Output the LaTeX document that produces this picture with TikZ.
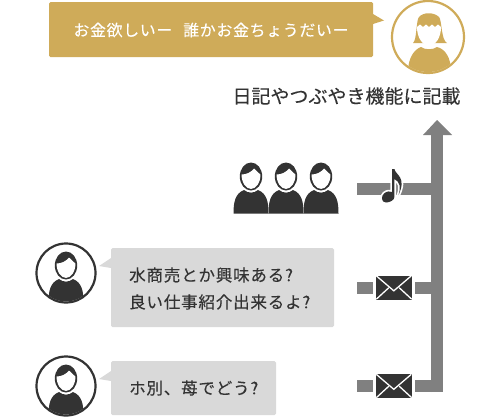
\documentclass[tikz,border=0pt]{standalone}
\usepackage{fontspec}
\setmainfont{Noto Sans CJK JP}[FakeBold=0.25]
\newfontfamily\spaced{Noto Sans CJK JP}[FakeBold=0.25,LetterSpace=5]
\usetikzlibrary{shapes.callouts}
\definecolor{gold}{HTML}{CFAB59}
\definecolor{ink}{HTML}{333333}
\definecolor{barg}{HTML}{808080}
\definecolor{bub}{HTML}{D9D9D9}
\def\notepath{(392,169) -- (394.4,169) .. controls (395.5,175) and (407,177) .. (398.5,195)
   .. controls (401,187) and (400,182) .. (394.4,179) -- (394.4,197)
   .. controls (394.4,200) and (390,202.5) .. (386,202.5)
   .. controls (381,202.5) and (381,196) .. (384,193.5)
   .. controls (387,191) and (390,191) .. (392,192) -- cycle}
\tikzset{
  x=1pt,y=-1pt,
  bar/.style={draw=barg,line width=12pt},
  bubbletext/.style={anchor=west,inner sep=0pt,text=ink,font=\spaced\fontsize{16.5}{27}\selectfont,align=left},
  mailbox/.style={rectangle,fill=ink,minimum width=36pt,minimum height=24pt,inner sep=0pt},
  man/.pic={
    \fill[ink] (-17.5,37) .. controls (-17.5,26) and (-16,17) .. (-7,13.5)
       .. controls (-3,17) and (3,17) .. (7,13.5)
       .. controls (16,17) and (17.5,26) .. (17.5,37) -- cycle;
    \fill[ink] (0,0) ellipse[x radius=11.2,y radius=14];
    \fill[white] (-9.4,-2) .. controls (-5,-2) and (0,-4) .. (3,-8)
       .. controls (5,-5) and (8,-4) .. (9.4,-2)
       .. controls (9.6,6) and (5,12.4) .. (0,12.4)
       .. controls (-5,12.4) and (-9.6,6) .. (-9.4,-2) -- cycle;
  },
}
\begin{document}
\begin{tikzpicture}
\useasboundingbox (0,0) rectangle (502,416);
% gold speech bubble
\fill[gold,rounded corners=1.5pt] (49,2) rectangle (373,57);
\fill[gold] (373,14) -- (384,20.5) -- (373,24) -- cycle;
\node[inner sep=0pt,text=white,font=\spaced\fontsize{15.8}{18}\selectfont] (speech) at (211,30) {お金欲しいー\hspace{0.7em}誰かお金ちょうだいー};
% woman icon
\node[circle,draw=gold,line width=2.2pt,minimum size=72pt,inner sep=0pt] (woman) at (428,37) {};
\begin{scope}
  \clip (woman) circle (35);
  \fill[gold] (408,72) .. controls (408,57) and (415,49) .. (421,47)
     .. controls (425,50) and (433,50) .. (437,47)
     .. controls (445,49) and (451,57) .. (451,72) -- cycle;
  \fill[gold] (413,43) .. controls (417,40) and (416,20) .. (419,17)
     .. controls (423,12) and (434,12) .. (439,17)
     .. controls (442,20) and (441,40) .. (447,43) -- cycle;
  \fill[white] (417,27) -- (420,24.5) -- (423,27) -- (426,24.5) -- (429,27) -- (432,24.5) -- (435,27) -- (438,24.5) -- (441,27)
     .. controls (441,37) and (436,45.5) .. (429,45.5)
     .. controls (422,45.5) and (417,37) .. (417,27) -- cycle;
\end{scope}
% caption
\node[inner sep=0pt,text=ink,font=\fontsize{19}{22}\selectfont] (caption) at (346.5,96) {日記やつぶやき機能に記載};
% connectors
\coordinate (tip) at (437,120);
\coordinate (hl) at (423,135);
\coordinate (hr) at (452,135);
\coordinate (foot) at (437,392);
\coordinate (j1) at (437,189);
\coordinate (j2) at (437,287.5);
\coordinate (j3) at (437,386);
\coordinate (s1) at (357,189);
\coordinate (s2) at (357,287.5);
\coordinate (s3) at (357,386);
\draw[bar] (foot) -- (437,134);
\fill[barg] (tip) -- (hr) -- (hl) -- cycle;
\draw[bar] (s1) -- (j1);
\node[mailbox] (m2) at (394,287.5) {};
\node[mailbox] (m3) at (394,386) {};
\draw[bar,shorten >=3pt] (s2) -- (m2);
\draw[bar,shorten <=3pt] (m2) -- (j2);
\draw[bar,shorten >=3pt] (s3) -- (m3);
\draw[bar,shorten <=3pt] (m3) -- (j3);
\foreach \m in {m2,m3}{
  \draw[white,line width=1.3pt,line join=miter] (\m.north west) ++(0.5,0.5) -- ++(17.5,15) -- ++(17.5,-15);
  \draw[white,line width=1.3pt] (\m.south west) ++(0.5,-0.5) -- ++(12.5,-11.5);
  \draw[white,line width=1.3pt] (\m.south east) ++(-0.5,-0.5) -- ++(-12.5,-11.5);
}
% note icon
\draw[white,line width=3.4pt,line join=round,fill=white] \notepath;
\fill[ink] \notepath;
% three people
\path (251,176.5) pic {man};
\path (286,176.5) pic {man};
\path (321,176.5) pic {man};
% dark rings
\node[circle,draw=ink,line width=2.2pt,minimum size=59pt,inner sep=0pt] (u1) at (66,273) {};
\node[circle,draw=ink,line width=2.2pt,minimum size=59pt,inner sep=0pt] (u2) at (66,386) {};
\begin{scope}
  \clip (u1) circle (28.5);
  \path (66,265.5) pic {man};
\end{scope}
\begin{scope}
  \clip (u2) circle (28.5);
  \path (66,378.5) pic {man};
\end{scope}
% grey bubbles
\fill[bub,rounded corners=1.5pt] (111,248) rectangle (334,327);
\fill[bub] (111,258) -- (99,266) -- (111,268) -- cycle;
\fill[bub,rounded corners=1.5pt] (111,361) rectangle (276,415);
\fill[bub] (111,371) -- (99,379) -- (111,381) -- cycle;
\node[bubbletext] (t1) at (129,288.5) {水商売とか興味ある?\\良い仕事紹介出来るよ?};
\node[bubbletext] (t2) at (129,388) {ホ別、苺でどう?};
\end{tikzpicture}
\end{document}
